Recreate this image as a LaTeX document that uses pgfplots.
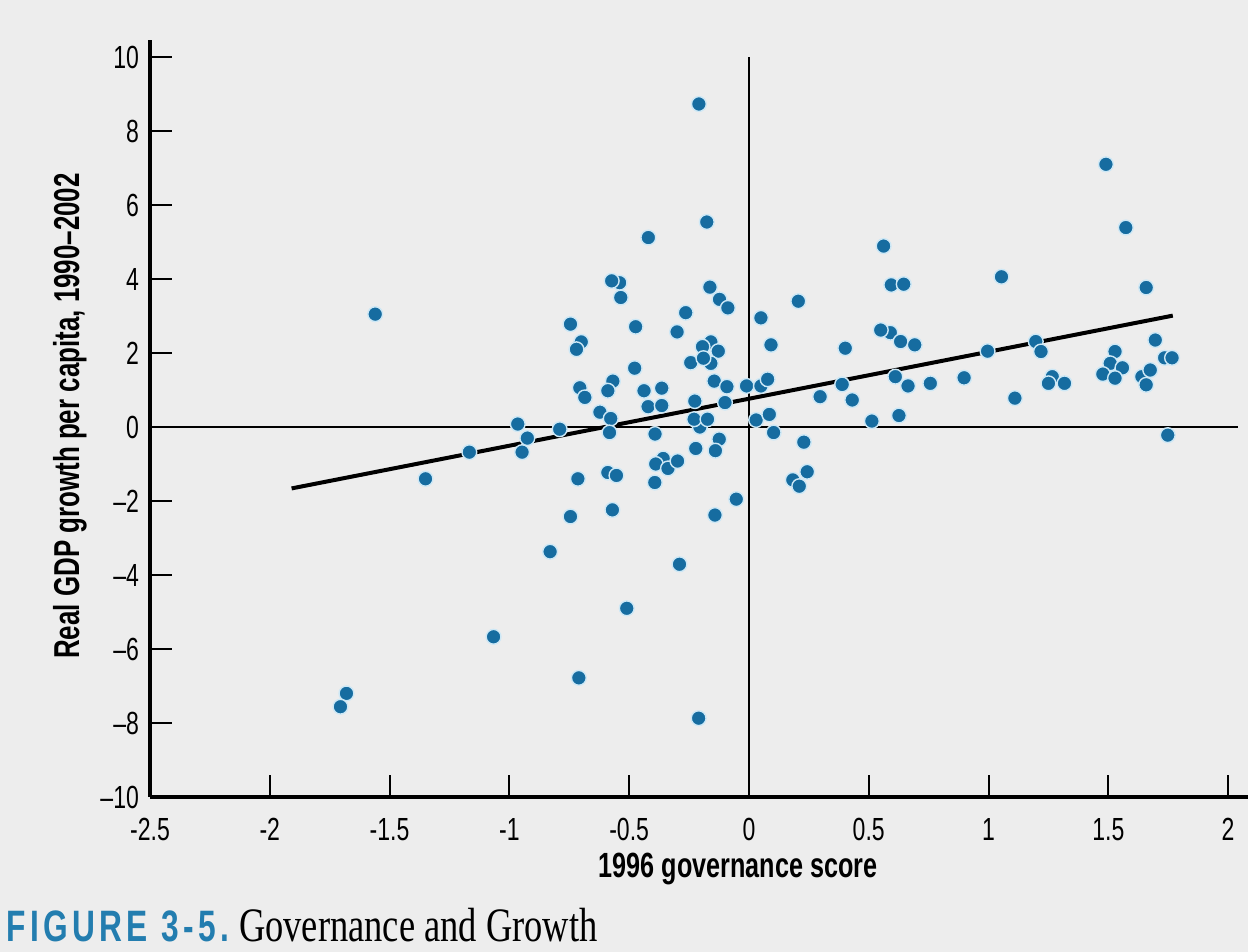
\documentclass[border=0pt]{standalone}
\usepackage{pgfplots}
\pgfplotsset{compat=1.18}
\usepackage{fontspec}
\setmainfont{Liberation Serif}
\newfontfamily\cond[FakeStretch=0.72]{Liberation Sans}
\newfontfamily\serifc[FakeStretch=0.76]{Liberation Serif}
\definecolor{dotblue}{RGB}{22,108,160}
\definecolor{dotedge}{RGB}{205,232,246}
\definecolor{bg}{RGB}{237,237,237}
\definecolor{capblue}{RGB}{35,125,175}

\begin{document}
\begin{tikzpicture}
\useasboundingbox (0,0) rectangle (624pt,476pt);
\fill[bg] (0,0) rectangle (624pt,476pt);
\begin{axis}[
  at={(75pt,77.5pt)}, anchor=south west, scale only axis,
  width=549pt, height=378.5pt,
  xmin=-2.5, xmax=2.083, ymin=-10, ymax=10.46,
  axis x line=bottom, axis y line=left,
  axis line style={-, line width=2pt},
  xtick={-2.5,-2,-1.5,-1,-0.5,0,0.5,1,1.5,2},
  xticklabels={-2.5,-2,-1.5,-1,-0.5,0,0.5,1,1.5,2},
  ytick={-10,-8,-6,-4,-2,0,2,4,6,8,10},
  yticklabels={–10,–8,–6,–4,–2,0,2,4,6,8,10},
  tick align=inside, major tick length=11pt,
  tick style={black, line width=1pt},
  ticklabel style={font=\cond\fontsize{16}{16}\selectfont},
  x tick label style={yshift=-7pt},
  y tick label style={xshift=-2pt},
  /pgf/number format/assume math mode=true,
  clip=false,
]
\addplot[black, line width=1pt] coordinates {(-2.5,0) (2.04,0)};
\addplot[black, line width=1pt] coordinates {(0,-10) (0,10)};
\addplot[black, line width=2pt] coordinates {(-1.909,-1.66) (1.769,3.01)};
\addplot[only marks, mark=*, mark size=3.7pt,
  mark options={fill=dotblue, draw=dotedge, line width=0.7pt}] coordinates {
(-1.56,3.05) (-0.965,0.08) (-0.925,-0.30) (-1.167,-0.68) (-0.947,-0.68)
(-1.35,-1.40) (-0.209,8.73) (-0.176,5.54) (-0.42,5.12) (-0.54,3.90)
(-0.573,3.95) (-0.535,3.50) (-0.163,3.78) (-0.123,3.45) (-0.088,3.22)
(-0.264,3.09) (-0.745,2.78) (-0.473,2.71) (-0.30,2.57) (0.05,2.95)
(-0.70,2.30) (-0.72,2.10) (-0.159,2.30) (-0.194,2.17) (-0.128,2.05)
(-0.243,1.74) (-0.159,1.72) (-0.19,1.86) (-0.477,1.59) (-0.706,1.06)
(-0.685,0.80) (-0.568,1.24) (-0.589,0.98) (-0.438,0.98) (-0.364,1.05)
(-0.421,0.55) (-0.364,0.58) (-0.145,1.24) (-0.092,1.09) (-0.01,1.11)
(0.05,1.11) (0.078,1.29) (-0.226,0.70) (-0.10,0.66) (-0.205,0.00)
(-0.229,0.21) (-0.173,0.21) (0.03,0.19) (0.085,0.34) (-0.622,0.40)
(-0.577,0.23) (-0.582,-0.15) (-0.79,-0.06) (-0.392,-0.19)
(-0.124,-0.33) (-0.14,-0.64) (-0.222,-0.58) (-0.358,-0.85) (-0.389,-1.00)
(-0.338,-1.12) (-0.298,-0.92) (-0.393,-1.50) (-0.714,-1.40) (-0.589,-1.23)
(-0.553,-1.31) (-0.57,-2.24) (-0.745,-2.42) (-0.053,-1.95) (-0.142,-2.38)
(-0.83,-3.37) (-0.29,-3.71) (-0.51,-4.90) (-1.68,-7.20) (-1.705,-7.56)
(-1.066,-5.67) (-0.71,-6.78) (-0.21,-7.87) (0.562,4.89) (0.594,3.84)
(0.646,3.86) (0.206,3.40) (0.092,2.22) (0.402,2.13) (0.59,2.55)
(0.55,2.62) (0.633,2.31) (0.692,2.22) (0.996,2.05) (0.389,1.15)
(0.611,1.36) (0.664,1.11) (0.757,1.18) (0.898,1.33) (0.297,0.82)
(0.431,0.73) (0.513,0.16) (0.626,0.31) (0.103,-0.15) (0.229,-0.41)
(0.243,-1.21) (0.183,-1.43) (0.21,-1.60) (1.054,4.06) (1.49,7.10)
(1.573,5.39) (1.658,3.77) (1.197,2.31) (1.219,2.04) (1.696,2.35)
(1.528,2.04) (1.508,1.72) (1.559,1.60) (1.477,1.43) (1.528,1.32)
(1.735,1.87) (1.766,1.87) (1.64,1.36) (1.675,1.54) (1.658,1.14)
(1.266,1.36) (1.25,1.18) (1.317,1.18) (1.11,0.78) (1.748,-0.22)
};
\end{axis}
\node[anchor=center, font=\cond\bfseries\fontsize{17.5}{17.5}\selectfont] at (369pt,41.5pt) {1996 governance score};
\node[anchor=center, rotate=90, font=\cond\bfseries\fontsize{18}{18}\selectfont] at (35pt,268pt) {Real GDP growth per capita, 1990–2002};
\node[anchor=base west, inner sep=0pt] at (3pt,5pt) {{\color{capblue}\cond\bfseries\fontsize{22}{22}\selectfont\addfontfeature{LetterSpace=10}FIGURE 3-5.}\hspace{5pt}{\serifc\fontsize{24}{24}\selectfont Governance and Growth}};
\end{tikzpicture}
\end{document}
